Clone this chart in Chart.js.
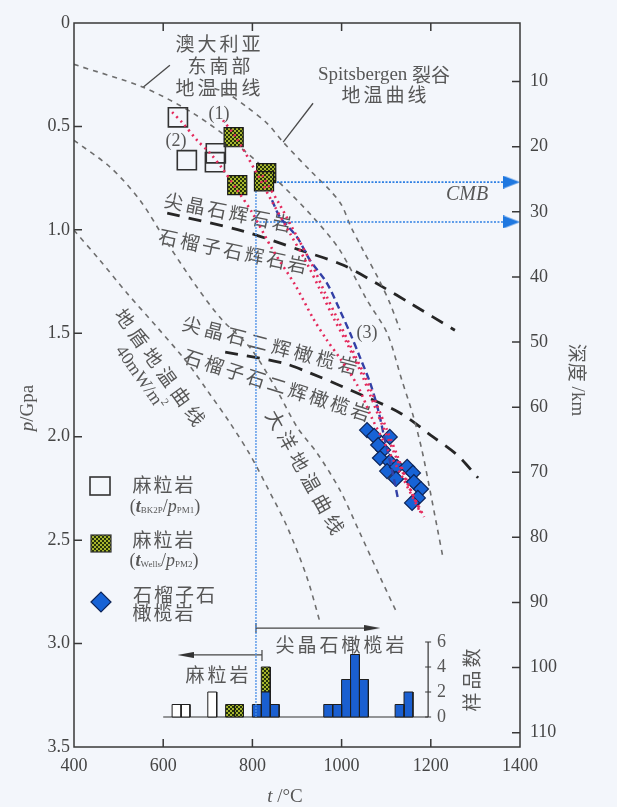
<!DOCTYPE html>
<html>
<head>
<meta charset="utf-8">
<script src="https://cdn.jsdelivr.net/npm/chart.js@4.4.1/dist/chart.umd.min.js"></script>
<style>
  body { margin: 0; background: #f3f6fb; }
  #wrap { width: 617px; height: 807px; position: relative; }
</style>
</head>
<body>
<div id="wrap"><canvas id="c"></canvas></div>
<script>
// axis ticks
const xTickVals = [400, 600, 800, 1000, 1200, 1400];
const pTickVals = [0, 0.5, 1, 1.5, 2, 2.5, 3, 3.5];
const depthTickVals = [10, 20, 30, 40, 50, 60, 70, 80, 90, 100, 110];
const histTickVals = [0, 2, 4, 6];

// geotherms [t, p]
const geoAusSE = [[400,0.20],[555,0.311],[667,0.436],[772,0.600],[855,0.760],[936,0.939],[996,1.098],[1057,1.340],[1102,1.499],[1135,1.726],[1160,1.895],[1180,2.064],[1198,2.257],[1214,2.436],[1227,2.581]];
const geoSpits = [[694,0.301],[743,0.340],[788,0.407],[833,0.485],[869,0.576],[929,0.712],[974,0.809],[1000,0.880],[1021,0.986],[1048,1.098],[1084,1.242],[1108,1.353],[1131,1.484]];
const geoOcean = [[400,0.567],[481,0.697],[548,0.857],[608,1.06],[675,1.275],[730,1.43],[795,1.57],[851,1.76],[900,1.953],[945,2.079],[996,2.257],[1041,2.465],[1086,2.677],[1124,2.852]];
const geoShield = [[400,1.002],[458,1.147],[519,1.306],[586,1.470],[653,1.639],[698,1.774],[750,1.934],[795,2.088],[833,2.243],[878,2.436],[922,2.678],[952,2.900]];

// spinel / garnet boundaries
const bndPyroxenite = [[609,0.919],[779,1.006],[907,1.098],[1003,1.170],[1093,1.277],[1153,1.354],[1254,1.485]];
const bndLherzolite = [[739,1.591],[869,1.644],[929,1.692],[1019,1.774],[1131,1.885],[1205,2.001],[1259,2.088],[1306,2.199]];

// fitted paths (1), (2), (3)
const path1a = [[734,0.470],[763,0.552],[806,0.712],[846,0.871],[884,1.016],[922,1.161],[952,1.291],[981,1.422],[1012,1.548],[1041,1.678],[1064,1.798],[1091,1.943],[1120,2.088],[1149,2.233],[1180,2.378]];
const path1b = [[822,0.736],[862,0.881],[898,1.025],[934,1.170],[963,1.306],[992,1.436],[1021,1.567],[1050,1.697],[1073,1.813],[1100,1.958],[1127,2.103],[1153,2.248],[1185,2.388]];
const path2 = [[620,0.431],[644,0.484],[676,0.567],[705,0.629],[732,0.702],[766,0.808],[799,0.915],[846,1.098],[896,1.267],[936,1.427],[967,1.533],[996,1.620],[1035,1.750],[1068,1.910],[1104,2.064],[1142,2.219],[1176,2.364]];
const path3 = [[844,0.857],[862,0.939],[900,1.035],[929,1.146],[967,1.257],[996,1.388],[1019,1.499],[1041,1.615],[1064,1.740],[1082,1.871],[1097,2.016],[1113,2.161],[1127,2.306]];

// leader lines for the geotherm names
const ausPointer = [[555,0.311],[615,0.204]];
const spitsPointer = [[869,0.576],[936,0.388]];

// samples
const granuliteBK = [[633,0.456],[653,0.663],[718,0.630],[716,0.673]];
const granuliteWells = [[758,0.552],[766,0.784],[831,0.726],[826,0.765]];
const garnetPeridotite = [[1057,1.968],[1073,1.996],[1108,2.001],[1093,2.064],[1086,2.103],[1108,2.122],[1102,2.166],[1124,2.146],[1122,2.204],[1147,2.146],[1160,2.175],[1162,2.219],[1178,2.253],[1171,2.296],[1158,2.320],[1082,2.040]];

// CMB
const cmbT = [808, 1381];
const cmbP = [0.769, 0.962];
const cmbDropP = [0.769, 3.355];

// histogram (20 °C bins)
const binWidth = 20;
const openBinLo = [620, 640, 700];
const openCount = [1, 1, 2];
const wellsBinLo = [740, 760, 820];
const wellsCount = [1, 1, 2];
const wellsBase = [0, 0, 2];
const blueBinLo = [800, 820, 840, 960, 980, 1000, 1020, 1040, 1120, 1140];
const blueCount = [1, 2, 1, 1, 1, 3, 5, 3, 1, 2];
const histBaseT = [600, 1194];
const histAxisT = 1194;

// range arrows under the diagram
const spinelArrow = [[808,2.925],[1069,2.925]];
const spinelTick = [[808,2.900],[808,2.949]];
const granArrow = [[821.5,3.055],[650,3.055]];
const granTick = [[821.5,3.031],[821.5,3.084]];

const CJK = '"Noto Sans CJK SC", sans-serif';
const SERIF = '"Liberation Serif", "DejaVu Serif", serif';
const TXT = '#575757';

const pts = arr => arr.map(([x, y]) => ({ x, y }));
const canvas = document.getElementById('c');
const ctx0 = canvas.getContext('2d');

// checkered fill for the Wells granulites
const tile = document.createElement('canvas');
tile.width = 4; tile.height = 4;
const tg = tile.getContext('2d');
tg.fillStyle = '#25330b'; tg.fillRect(0, 0, 4, 4);
tg.fillStyle = '#a8b62e'; tg.fillRect(0, 0, 2, 2); tg.fillRect(2, 2, 2, 2);
const checker = ctx0.createPattern(tile, 'repeat');

function arrowImg(w, h, dir, color) {
    const c = document.createElement('canvas');
    c.width = w; c.height = h;
    const g = c.getContext('2d');
    g.fillStyle = color;
    g.beginPath();
    if (dir > 0) { g.moveTo(0, 0); g.lineTo(w, h / 2); g.lineTo(0, h); }
    else { g.moveTo(w, 0); g.lineTo(0, h / 2); g.lineTo(w, h); }
    g.closePath();
    g.fill();
    return c;
}
const cmbHead = arrowImg(17, 13, 1, '#1f78e0');
const rightHead = arrowImg(16, 6, 1, '#333');
const leftHead = arrowImg(16, 6, -1, '#333');

function lineDs(arr, color, width, dash, order, extra) {
    return Object.assign({
        data: pts(arr), showLine: true, borderColor: color, borderWidth: width,
        borderDash: dash, pointRadius: 0, tension: 0.3, fill: false, order: order
    }, extra || {});
}

function histBars(lo, count, base, fillColor) {
    return lo.map((l, i) => {
        const b = base ? base[i] : 0;
        const top = b + count[i];
        return {
            data: pts([[l, b], [l, top], [l + binWidth, top], [l + binWidth, b], [l, b]]),
            yAxisID: 'yh', showLine: true, fill: 'shape', backgroundColor: fillColor,
            borderColor: '#1e1e1e', borderWidth: 1, pointRadius: 0, tension: 0, order: 9
        };
    });
}

const datasets = [
    lineDs(geoAusSE, '#6e6e6e', 1.6, [5, 5], 8),
    lineDs(geoSpits, '#6e6e6e', 1.6, [5, 5], 8),
    lineDs(geoOcean, '#6e6e6e', 1.6, [5, 5], 8),
    lineDs(geoShield, '#6e6e6e', 1.6, [5, 5], 8),
    lineDs(bndPyroxenite, '#262626', 2.8, [13, 9], 8),
    lineDs(bndLherzolite, '#262626', 2.8, [13, 9], 8),
    lineDs(ausPointer, '#4a4a4a', 1.3, [], 8, { tension: 0 }),
    lineDs(spitsPointer, '#4a4a4a', 1.3, [], 8, { tension: 0 }),
    // CMB arrows and drop line
    ...cmbP.map(p => lineDs([[cmbT[0], p], [cmbT[1], p]], '#2d7fe3', 1.7, [2, 1.5], 7,
        { tension: 0, clip: false, pointRadius: [0, 6], pointStyle: ['circle', cmbHead] })),
    lineDs([[cmbT[0], cmbDropP[0]], [cmbT[0], cmbDropP[1]]], '#4a8fe6', 1.3, [2, 1], 7, { tension: 0 }),
    // samples
    { data: pts(granuliteBK), showLine: false, pointStyle: 'rect', pointRadius: 13.5,
      backgroundColor: 'rgba(0,0,0,0)', borderColor: '#333', borderWidth: 1.6, order: 6 },
    { data: pts(granuliteWells), showLine: false, pointStyle: 'rect', pointRadius: 13.5,
      backgroundColor: checker, borderColor: '#1a1a1a', borderWidth: 1.2, order: 6 },
    { data: pts(garnetPeridotite), showLine: false, pointStyle: 'rectRot', pointRadius: 7.5,
      backgroundColor: '#1763d6', borderColor: '#0d2458', borderWidth: 1.2, order: 6 },
    // fitted paths on top
    lineDs(path2, '#e42a5c', 2.6, [2, 4], 1),
    lineDs(path1a, '#e42a5c', 2.6, [2, 4], 1),
    lineDs(path1b, '#e42a5c', 2.6, [2, 4], 1),
    lineDs(path3, '#3340a6', 2.4, [7, 4], 1),
    // histogram
    ...histBars(openBinLo, openCount, null, '#ffffff'),
    ...histBars(blueBinLo, blueCount, null, '#1a5fd0'),
    ...histBars(wellsBinLo, wellsCount, wellsBase, checker),
    lineDs([[histBaseT[0], 0], [histBaseT[1], 0]], '#333', 1.2, [], 9, { yAxisID: 'yh', tension: 0 }),
    lineDs([[histAxisT, 0], [histAxisT, 6]], '#333', 1.2, [], 9, { yAxisID: 'yh', tension: 0 }),
    // range arrows
    lineDs(spinelArrow, '#444', 1.2, [], 7, { tension: 0, pointRadius: [0, 5], pointStyle: ['circle', rightHead] }),
    lineDs(spinelTick, '#444', 1.2, [], 7, { tension: 0 }),
    lineDs(granArrow, '#444', 1.2, [], 7, { tension: 0, pointRadius: [0, 5], pointStyle: ['circle', leftHead] }),
    lineDs(granTick, '#444', 1.2, [], 7, { tension: 0 })
];

function spaced(ctx, text, x, y, angle, size, spacing, font) {
    ctx.save();
    ctx.translate(x, y);
    ctx.rotate(angle * Math.PI / 180);
    ctx.font = size + 'px ' + (font || CJK);
    ctx.letterSpacing = (spacing || 0) + 'px';
    ctx.fillStyle = TXT;
    ctx.textAlign = 'center';
    ctx.textBaseline = 'middle';
    ctx.fillText(text, (spacing || 0) / 2, 0);
    ctx.restore();
}

// parts: [text, font, dy]
function rich(ctx, parts, x, y, angle, align) {
    ctx.save();
    ctx.translate(x, y);
    ctx.rotate((angle || 0) * Math.PI / 180);
    ctx.fillStyle = TXT;
    ctx.textBaseline = 'middle';
    ctx.textAlign = 'left';
    let total = 0;
    const widths = parts.map(([t, f]) => { ctx.font = f; const w = ctx.measureText(t).width; total += w; return w; });
    let cx = align === 'left' ? 0 : -total / 2;
    parts.forEach(([t, f, dy], i) => {
        ctx.font = f;
        ctx.fillText(t, cx, dy || 0);
        cx += widths[i];
    });
    ctx.restore();
}

const decor = {
    id: 'decor',
    beforeDatasetsDraw(chart) {
        const ctx = chart.ctx;
        spaced(ctx, '澳大利亚', 218, 44, 0, 19, 3);
        spaced(ctx, '东南部', 219, 66, 0, 19, 3);
        spaced(ctx, '地温曲线', 218, 88, 0, 19, 3);
        rich(ctx, [['Spitsbergen ', '19px ' + SERIF], ['裂谷', '19px ' + CJK]], 384, 75);
        spaced(ctx, '地温曲线', 384, 95, 0, 19, 3);
        spaced(ctx, '尖晶石辉石岩', 228, 212, 11.3, 19, 3);
        spaced(ctx, '石榴子石辉石岩', 233, 251, 11.7, 19, 3);
        spaced(ctx, '尖晶石二辉橄榄岩', 270, 345, 14.4, 19, 4);
        spaced(ctx, '石榴子石二辉橄榄岩', 277, 385, 17.7, 19, 3);
        spaced(ctx, '大洋地温曲线', 305, 472, 60.7, 19, 5);
        spaced(ctx, '地盾地温曲线', 160, 367, 54.2, 19, 5);
        rich(ctx, [['40mW/m', '18px ' + SERIF], ['2', '11px ' + SERIF, -6]], 140, 378, 55);
        spaced(ctx, '尖晶石橄榄岩', 340, 645, 0, 19, 3);
        spaced(ctx, '麻粒岩', 217, 675, 0, 19, 3);
        spaced(ctx, '(1)', 219, 114, 0, 18, 0, SERIF);
        spaced(ctx, '(2)', 176, 141, 0, 18, 0, SERIF);
        spaced(ctx, '(3)', 367, 333, 0, 18, 0, SERIF);
        rich(ctx, [['CMB', 'italic 20px ' + SERIF]], 467, 195);
    },
    afterDatasetsDraw(chart) {
        const ctx = chart.ctx;
        const { left, right, top, bottom } = chart.chartArea;
        const xs = chart.scales.x, ys = chart.scales.y, yr = chart.scales.yr, yh = chart.scales.yh;
        ctx.save();
        ctx.strokeStyle = '#383838';
        ctx.lineWidth = 1.5;
        ctx.strokeRect(left, top, right - left, bottom - top);
        ctx.beginPath();
        xTickVals.slice(1, -1).forEach(v => {
            const px = xs.getPixelForValue(v);
            ctx.moveTo(px, bottom); ctx.lineTo(px, bottom - 8);
            ctx.moveTo(px, top); ctx.lineTo(px, top + 8);
        });
        pTickVals.slice(1, -1).forEach(v => {
            const py = ys.getPixelForValue(v);
            ctx.moveTo(left, py); ctx.lineTo(left + 8, py);
        });
        depthTickVals.forEach(v => {
            const py = yr.getPixelForValue(v);
            ctx.moveTo(right, py); ctx.lineTo(right - 8, py);
        });
        ctx.stroke();
        // histogram count axis
        const hx = xs.getPixelForValue(histAxisT);
        ctx.lineWidth = 1.2;
        ctx.beginPath();
        histTickVals.forEach(v => {
            const py = yh.getPixelForValue(v);
            ctx.moveTo(hx - 3, py); ctx.lineTo(hx + 3, py);
        });
        ctx.stroke();
        ctx.fillStyle = TXT;
        ctx.font = '18px ' + SERIF;
        ctx.textAlign = 'left';
        ctx.textBaseline = 'middle';
        histTickVals.forEach(v => ctx.fillText(String(v), hx + 9, yh.getPixelForValue(v)));
        ctx.restore();
        spaced(ctx, '样品数', 472, 680, -90, 19, 3);

        // legend
        ctx.save();
        ctx.strokeStyle = '#333';
        ctx.lineWidth = 1.6;
        ctx.strokeRect(90, 477, 20, 18);
        ctx.fillStyle = checker;
        ctx.fillRect(91, 535, 20, 17);
        ctx.lineWidth = 1.2;
        ctx.strokeRect(91, 535, 20, 17);
        ctx.beginPath();
        ctx.moveTo(91, 602); ctx.lineTo(101, 592); ctx.lineTo(111, 602); ctx.lineTo(101, 612);
        ctx.closePath();
        ctx.fillStyle = '#1763d6';
        ctx.fill();
        ctx.strokeStyle = '#0d2458';
        ctx.stroke();
        ctx.restore();
        spaced(ctx, '麻粒岩', 163, 485, 0, 19, 2);
        rich(ctx, [['(', '18px ' + SERIF], ['t', 'italic bold 18px ' + SERIF], ['BK2P', '9px ' + SERIF, 4],
            ['/', '18px ' + SERIF], ['p', 'italic 18px ' + SERIF], ['PM1', '9px ' + SERIF, 4], [')', '18px ' + SERIF]], 165, 507);
        spaced(ctx, '麻粒岩', 163, 540, 0, 19, 2);
        rich(ctx, [['(', '18px ' + SERIF], ['t', 'italic bold 18px ' + SERIF], ['Wells', '9px ' + SERIF, 4],
            ['/', '18px ' + SERIF], ['p', 'italic 18px ' + SERIF], ['PM2', '9px ' + SERIF, 4], [')', '18px ' + SERIF]], 164, 561);
        spaced(ctx, '石榴子石', 174, 595, 0, 19, 2);
        spaced(ctx, '橄榄岩', 163, 613, 0, 19, 2);

        // axis titles
        rich(ctx, [['p', 'italic 19px ' + SERIF], ['/Gpa', '19px ' + SERIF]], 28, 408, -90);
        rich(ctx, [['深度', '19px ' + CJK], [' /km', '19px ' + SERIF]], 577, 380, 90);
        rich(ctx, [['t', 'italic 19px ' + SERIF], [' /°C', '19px ' + SERIF]], 285, 797);
    }
};

const tickFont = { family: '"Liberation Serif", "DejaVu Serif", serif', size: 18 };

new Chart(canvas, {
    type: 'scatter',
    data: { datasets: datasets },
    options: {
        responsive: true,
        maintainAspectRatio: false,
        animation: false,
        events: [],
        layout: { padding: { top: 23, left: 0, right: 0, bottom: 0 } },
        plugins: { legend: { display: false }, tooltip: { enabled: false } },
        scales: {
            x: {
                type: 'linear', position: 'bottom', min: 400, max: 1400,
                afterBuildTicks: s => { s.ticks = xTickVals.map(v => ({ value: v })); },
                afterFit: s => { s.height = 60; },
                grid: { display: false, drawTicks: false }, border: { display: false },
                ticks: { font: tickFont, color: '#454545', padding: 8, maxRotation: 0,
                    callback: v => String(v) }
            },
            y: {
                type: 'linear', position: 'left', reverse: true, min: 0, max: 3.5,
                afterBuildTicks: s => { s.ticks = pTickVals.map(v => ({ value: v })); },
                afterFit: s => { s.width = 74; },
                grid: { display: false, drawTicks: false }, border: { display: false },
                ticks: { font: tickFont, color: '#454545', padding: 4,
                    callback: v => v === 0 ? '0' : Number(v).toFixed(1) }
            },
            yr: {
                type: 'linear', position: 'right', reverse: true, min: 1.0, max: 112.2,
                afterBuildTicks: s => { s.ticks = depthTickVals.map(v => ({ value: v })); },
                afterFit: s => { s.width = 97; },
                grid: { display: false, drawTicks: false }, border: { display: false },
                ticks: { font: tickFont, color: '#454545', padding: 10 }
            },
            yh: { type: 'linear', display: false, min: -2.4, max: 55.52 }
        }
    },
    plugins: [decor]
});
</script>
</body>
</html>
